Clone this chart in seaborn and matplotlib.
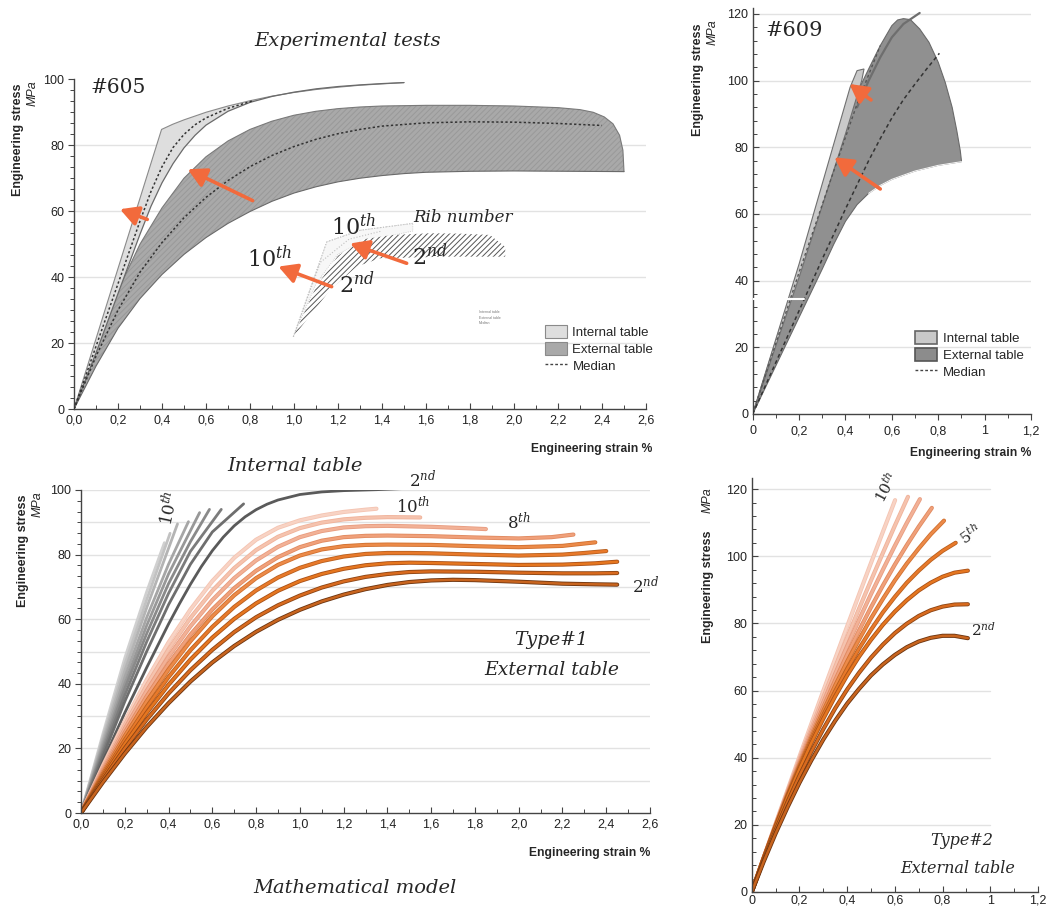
import numpy as np
import pandas as pd
import matplotlib
matplotlib.use("Agg")
import matplotlib.pyplot as plt
import seaborn as sns
from matplotlib.patches import Patch
from matplotlib.lines import Line2D
import matplotlib.patheffects as pe
from matplotlib.ticker import MultipleLocator, FuncFormatter

sns.set_style("white")
plt.rcParams['font.family'] = ['Liberation Sans', 'DejaVu Sans']
plt.rcParams['mathtext.fontset'] = 'dejavuserif'
plt.rcParams['hatch.linewidth'] = 0.7

# ---------------- DATA ----------------
# Panel A  (#605, experimental) -- strain %, stress MPa
A_INT_UP_X = [0, 0.398, 0.45, 0.5, 0.6, 0.7, 0.8, 0.9, 1.0, 1.1, 1.2, 1.3, 1.4, 1.5]
A_INT_UP_Y = [0, 84.8, 86.4, 87.7, 90.0, 91.9, 93.5, 94.9, 96.0, 96.9, 97.6, 98.2, 98.6, 99.0]
A_INT_LO_X = [0, 0.1, 0.2, 0.3, 0.35, 0.4, 0.45, 0.5, 0.55, 0.6, 0.7, 0.8, 0.9, 1.0, 1.1, 1.2, 1.3, 1.4, 1.5]
A_INT_LO_Y = [0, 17, 35, 53, 61.5, 68.6, 74.4, 79.2, 83.0, 86.1, 90.3, 93.0, 94.8, 96.1, 97.1, 97.8, 98.3, 98.7, 99.0]
A_INT_MED_X = [0, 0.1, 0.2, 0.3, 0.35, 0.4, 0.45, 0.5, 0.55, 0.6, 0.7, 0.81]
A_INT_MED_Y = [0, 19, 38, 57, 66, 73.5, 79.3, 83.3, 86.2, 88.3, 91.2, 93.4]
A_EXT_UP_X = [0, 0.1, 0.2, 0.3, 0.4, 0.5, 0.6, 0.7, 0.8, 0.9, 1.0, 1.1, 1.2, 1.3, 1.4, 1.6, 1.8,
              2.0, 2.2, 2.3, 2.36, 2.41, 2.45, 2.48, 2.495, 2.5]
A_EXT_UP_Y = [0, 19, 36, 50, 61, 70, 76.5, 81.3, 84.8, 87.3, 89.1, 90.3, 91.1, 91.6, 91.9, 92.1, 92.1,
              91.9, 91.4, 90.8, 90.0, 88.6, 86.5, 83.0, 78.5, 72.0]
A_EXT_LO_X = [0, 0.1, 0.2, 0.3, 0.4, 0.5, 0.6, 0.7, 0.8, 0.9, 1.0, 1.1, 1.2, 1.3, 1.4, 1.5, 1.6, 1.8, 2.0, 2.5]
A_EXT_LO_Y = [0, 13, 24.5, 33.5, 40.8, 46.9, 52.0, 56.3, 59.9, 63.0, 65.5, 67.4, 68.9, 70.0, 70.8, 71.4, 71.8, 72.1, 72.2, 72.0]
A_EXT_MED_X = [0, 0.1, 0.2, 0.3, 0.4, 0.5, 0.6, 0.7, 0.8, 0.9, 1.0, 1.1, 1.2, 1.3, 1.4, 1.6, 1.8, 2.0, 2.2, 2.4]
A_EXT_MED_Y = [0, 16, 30, 41.5, 50.5, 58, 64.2, 69.3, 73.5, 76.9, 79.6, 81.8, 83.5, 84.8, 85.8, 86.8, 87.1, 87.0, 86.6, 86.0]
# small inset drawing ("Rib number")
IN_INT_UP_X = [0.997, 1.149, 1.3, 1.54]
IN_INT_UP_Y = [21.9, 50.7, 54.2, 56.3]
IN_INT_LO_X = [0.997, 1.1, 1.2, 1.3, 1.54]
IN_INT_LO_Y = [21.9, 38, 47, 50.5, 54]
IN_INT_MID_X = [0.997, 1.12, 1.25, 1.4]
IN_INT_MID_Y = [21.9, 44.5, 51.5, 54.0]
IN_HAT_UP_X = [0.997, 1.1, 1.2, 1.315, 1.45, 1.618, 1.75, 1.89, 1.96, 1.96]
IN_HAT_UP_Y = [21.9, 37, 46.5, 51.5, 52.8, 53.3, 53.2, 52.8, 49.2, 46.2]
IN_HAT_LO_X = [0.997, 1.164, 1.285, 1.39, 1.694, 1.96]
IN_HAT_LO_Y = [21.9, 36.1, 43.2, 45.7, 46.2, 46.2]
A_ARROWS = [((0.333, 57.5), (0.209, 60.6)), ((0.812, 63.2), (0.517, 72.7)),
            ((1.171, 37.1), (0.929, 43.2)), ((1.512, 44.2), (1.255, 50.2))]

# Panel B (#609, experimental)
B_EXT_UP_X = [0, 0.2, 0.333, 0.42, 0.5, 0.55, 0.6, 0.625, 0.65, 0.68, 0.72, 0.76, 0.8, 0.83, 0.86, 0.88, 0.895, 0.9]
B_EXT_UP_Y = [0, 44, 76, 92, 103.5, 110.5, 116.5, 118.2, 118.6, 118.3, 115.5, 111.5, 105.5, 99.5, 92, 85, 79, 76]
B_EXT_LO_X = [0, 0.1, 0.2, 0.3, 0.35, 0.4, 0.45, 0.5, 0.55, 0.6, 0.7, 0.8, 0.9]
B_EXT_LO_Y = [0, 14.5, 29, 43.5, 51, 57.8, 62.8, 66.2, 68.6, 70.4, 72.9, 74.6, 75.7]
B_INT_L_X = [0, 0.2, 0.42, 0.45, 0.48]
B_INT_L_Y = [0, 45, 98, 103, 103.5]
B_INT_R_X = [0, 0.2, 0.4, 0.47, 0.48]
B_INT_R_Y = [0, 41, 84, 100, 103.5]
B_EDGE_X = [0.45, 0.5, 0.55, 0.6, 0.65, 0.72]
B_EDGE_Y = [92, 100, 107, 113, 117, 120.3]
B_INT_MED_X = [0, 0.2, 0.35, 0.45, 0.55]
B_INT_MED_Y = [0, 42.5, 73, 93, 110.5]
B_EXT_MED_X = [0, 0.1, 0.2, 0.3, 0.4, 0.5, 0.55, 0.6, 0.65, 0.7, 0.75, 0.805]
B_EXT_MED_Y = [0, 15.5, 31, 46.5, 61.5, 76, 82.6, 88.8, 94.3, 99.0, 103.5, 108.2]
B_ARROWS = [((0.51, 94.2), (0.417, 99.0)), ((0.55, 67.5), (0.352, 77.0))]

# Panel C (mathematical model, Type#1): internal table (grey) per rib
RIBS = ['2nd', '3rd', '4th', '5th', '6th', '7th', '8th', '9th', '10th']
C_INT = {
    '2nd': ([0, 0.1, 0.2, 0.3, 0.4, 0.45, 0.5, 0.55, 0.6, 0.65, 0.7, 0.75, 0.8, 0.85, 0.9, 1.0, 1.1, 1.2, 1.35, 1.49],
            [0, 16, 31, 45, 58.5, 64.8, 70.8, 76.3, 81.2, 85.4, 88.9, 91.7, 93.9, 95.6, 96.9, 98.6, 99.4, 99.8, 100.1, 100.5]),
    '3rd': ([0, 0.1, 0.2, 0.3, 0.4, 0.5, 0.6, 0.743], [0, 17.5, 34.5, 50, 64.5, 77, 87, 95.7]),
    '4th': ([0, 0.1, 0.2, 0.3, 0.4, 0.5, 0.641], [0, 18.5, 36.5, 53, 68, 81, 94]),
    '5th': ([0, 0.1, 0.2, 0.3, 0.4, 0.5, 0.587], [0, 19.5, 38.5, 55.5, 71, 84, 94]),
    '6th': ([0, 0.1, 0.2, 0.3, 0.4, 0.542], [0, 20.5, 40, 58, 74, 93]),
    '7th': ([0, 0.1, 0.2, 0.3, 0.4, 0.491], [0, 21.5, 42, 60.5, 77, 90.2]),
    '8th': ([0, 0.1, 0.2, 0.3, 0.441], [0, 22.5, 44, 63.5, 89.5]),
    '9th': ([0, 0.1, 0.2, 0.3, 0.407], [0, 23.5, 46, 66, 86.6]),
    '10th': ([0, 0.1, 0.2, 0.3, 0.381], [0, 24.5, 48, 68.5, 83.7]),
}
# Panel C external table (orange) per rib
C_EXT = {
    '2nd': ([0, 0.1, 0.2, 0.3, 0.4, 0.5, 0.6, 0.7, 0.8, 0.9, 1.0, 1.1, 1.2, 1.3, 1.4, 1.5, 1.6, 1.7, 1.8, 2.0, 2.2, 2.35, 2.45],
            [0, 9.5, 18.4, 26.6, 34.0, 40.7, 46.6, 51.7, 56.1, 59.8, 62.9, 65.5, 67.6, 69.3, 70.6, 71.5, 72.0, 72.2, 72.1, 71.6, 71.0, 70.8, 70.7]),
    '3rd': ([0, 0.1, 0.2, 0.3, 0.4, 0.5, 0.6, 0.7, 0.8, 0.9, 1.0, 1.1, 1.2, 1.3, 1.4, 1.5, 1.6, 1.8, 2.0, 2.2, 2.35, 2.45],
            [0, 10.3, 20.0, 28.9, 37.0, 44.2, 50.5, 56.0, 60.6, 64.3, 67.3, 69.8, 71.7, 73.1, 74.0, 74.6, 74.8, 74.7, 74.4, 74.2, 74.2, 74.3]),
    '4th': ([0, 0.1, 0.2, 0.3, 0.4, 0.5, 0.6, 0.7, 0.8, 0.9, 1.0, 1.1, 1.2, 1.3, 1.4, 1.5, 1.6, 1.8, 2.0, 2.2, 2.35, 2.45],
            [0, 11.0, 21.4, 31.0, 39.7, 47.5, 54.3, 60.1, 64.9, 68.8, 71.8, 74.0, 75.6, 76.7, 77.3, 77.5, 77.4, 77.1, 76.8, 76.9, 77.3, 77.8]),
    '5th': ([0, 0.1, 0.2, 0.3, 0.4, 0.5, 0.6, 0.7, 0.8, 0.9, 1.0, 1.1, 1.2, 1.3, 1.4, 1.5, 1.6, 1.8, 2.0, 2.2, 2.3, 2.4],
            [0, 11.6, 22.6, 32.8, 42.1, 50.4, 57.6, 63.8, 68.9, 72.9, 75.9, 78.0, 79.4, 80.2, 80.5, 80.5, 80.4, 80.0, 79.7, 80.0, 80.5, 81.1]),
    '6th': ([0, 0.1, 0.2, 0.3, 0.4, 0.5, 0.6, 0.7, 0.8, 0.9, 1.0, 1.1, 1.2, 1.3, 1.4, 1.6, 1.8, 2.0, 2.2, 2.35],
            [0, 12.2, 23.8, 34.6, 44.4, 53.2, 60.9, 67.4, 72.7, 76.8, 79.7, 81.6, 82.6, 83.0, 83.1, 83.0, 82.6, 82.3, 82.7, 83.8]),
    '7th': ([0, 0.1, 0.2, 0.3, 0.4, 0.5, 0.6, 0.7, 0.8, 0.9, 1.0, 1.1, 1.2, 1.3, 1.4, 1.6, 1.8, 2.0, 2.15, 2.25],
            [0, 12.8, 24.9, 36.1, 46.2, 55.2, 63.0, 69.6, 75.0, 79.2, 82.3, 84.3, 85.4, 85.8, 85.9, 85.7, 85.3, 85.0, 85.4, 86.2]),
    '8th': ([0, 0.1, 0.2, 0.3, 0.4, 0.5, 0.6, 0.7, 0.8, 0.9, 1.0, 1.1, 1.2, 1.3, 1.4, 1.6, 1.75, 1.85],
            [0, 13.4, 26.1, 37.8, 48.4, 57.8, 65.9, 72.7, 78.2, 82.4, 85.4, 87.3, 88.4, 88.8, 88.9, 88.6, 88.2, 87.9]),
    '9th': ([0, 0.1, 0.2, 0.3, 0.4, 0.5, 0.6, 0.7, 0.8, 0.9, 1.0, 1.1, 1.2, 1.3, 1.4, 1.55],
            [0, 14.0, 27.2, 39.5, 50.6, 60.4, 68.8, 75.8, 81.4, 85.5, 88.2, 89.9, 90.9, 91.4, 91.6, 91.5]),
    '10th': ([0, 0.1, 0.2, 0.3, 0.4, 0.5, 0.6, 0.7, 0.8, 0.9, 1.0, 1.1, 1.2, 1.3, 1.35],
             [0, 14.6, 28.4, 41.2, 52.8, 63.0, 71.8, 79.0, 84.6, 88.3, 90.6, 92.1, 93.2, 93.9, 94.2]),
}
# Panel D (mathematical model, Type#2 external table)
D_X = [0, 0.05, 0.1, 0.15, 0.2, 0.25, 0.3, 0.35, 0.4, 0.45, 0.5, 0.55, 0.6, 0.65, 0.7, 0.75, 0.8, 0.85]
D_EXT = {
    '2nd': (D_X + [0.906], [0, 9.0, 17.4, 25.2, 32.5, 39.2, 45.4, 51.0, 56.1, 60.5, 64.5, 67.8, 70.6, 72.9,
                            74.6, 75.7, 76.3, 76.3, 75.6]),
    '3rd': (D_X + [0.906], [0, 9.5, 18.4, 26.8, 34.6, 41.8, 48.5, 54.7, 60.3, 65.3, 69.8, 73.7, 77.1, 79.9,
                            82.2, 83.9, 85.0, 85.6, 85.7]),
    '4th': (D_X + [0.906], [0, 10.0, 19.4, 28.3, 36.6, 44.4, 51.6, 58.3, 64.5, 70.1, 75.1, 79.6, 83.5, 86.9,
                            89.8, 92.1, 93.9, 95.1, 95.7]),
    '5th': (D_X[:17] + [0.855], [0, 10.0, 19.5, 28.6, 37.1, 45.2, 52.7, 59.8, 66.4, 72.5, 78.1, 83.3, 87.9,
                                 92.1, 95.7, 98.9, 101.6, 104.0]),
    '6th': (D_X[:16] + [0.806], [0, 10.0, 19.7, 28.9, 37.6, 46.0, 53.9, 61.5, 68.6, 75.2, 81.5, 87.3, 92.8,
                                 97.8, 102.3, 106.5, 110.6]),
    '7th': (D_X[:15] + [0.755], [0, 10.1, 19.8, 29.2, 38.2, 46.8, 55.1, 63.1, 70.7, 77.9, 84.8, 91.3, 97.5,
                                 103.3, 108.8, 114.4]),
    '8th': (D_X[:14] + [0.705], [0, 10.1, 19.9, 29.5, 38.8, 47.8, 56.5, 65.0, 73.2, 81.1, 88.7, 96.0, 103.1,
                                 109.9, 117.0]),
    '9th': (D_X[:13] + [0.655], [0, 10.2, 20.1, 29.9, 39.5, 48.8, 58.0, 67.0, 75.8, 84.4, 92.8, 101.0, 109.1,
                                 117.7]),
    '10th': (D_X[:12] + [0.601], [0, 10.2, 20.3, 30.3, 40.3, 50.1, 59.9, 69.5, 79.1, 88.6, 98.0, 107.3, 116.7]),
}

GREY_COL = ['#5a5a5a', '#6e6e6e', '#7c7c7c', '#8a8a8a', '#989898', '#a6a6a6', '#b4b4b4', '#c2c2c2', '#d0d0d0']
OR_CORE = ['#c8641e', '#d86a1e', '#e5761f', '#e8792a', '#ec8a48', '#f0a07a', '#f2b196', '#f5c3ae', '#f8d3c4']
OR_EDGE = ['#6b3410', '#8a4414', '#a85018', '#b8601f', '#d07030', '#e08a60', '#e89c80', '#f0b29a', '#f4c4b2']
ARROW_COL = '#f26a3c'

# ---------------- FIGURE ----------------
W, H = 1049, 917
fig = plt.figure(figsize=(W / 100, H / 100), dpi=100)


def rect(x0, x1, y_top, y_bot):
    return [x0 / W, 1 - y_bot / H, (x1 - x0) / W, (y_bot - y_top) / H]


def fmt1(v, p):
    return f"{v:.1f}".replace('.', ',')


def fmtg(v, p):
    return f"{round(v, 2):g}".replace('.', ',')


def style(ax, xlim, ylim, xmaj, xmin, ymaj, ymin, xfmt, xdir, ydir, xpad=4):
    ax.set_xlim(*xlim)
    ax.set_ylim(*ylim)
    ax.xaxis.set_major_locator(MultipleLocator(xmaj))
    ax.xaxis.set_minor_locator(MultipleLocator(xmin))
    ax.yaxis.set_major_locator(MultipleLocator(ymaj))
    ax.yaxis.set_minor_locator(MultipleLocator(ymin))
    ax.xaxis.set_major_formatter(FuncFormatter(xfmt))
    ax.yaxis.set_major_formatter(FuncFormatter(lambda v, p: f"{v:.0f}"))
    for s in ['top', 'right']:
        ax.spines[s].set_visible(False)
    for s in ['left', 'bottom']:
        ax.spines[s].set_color('#444444')
        ax.spines[s].set_linewidth(1.0)
    ax.tick_params(axis='x', which='both', bottom=True, direction=xdir, colors='#444444',
                   labelcolor='#222222', labelsize=9, pad=xpad)
    ax.tick_params(axis='y', which='both', left=True, direction=ydir, colors='#444444',
                   labelcolor='#222222', labelsize=9, pad=3)
    ax.tick_params(which='major', length=4, width=0.8)
    ax.tick_params(which='minor', length=3, width=0.7)
    ax.set_facecolor('none')
    ax.grid(False)


def long_df(d, order):
    return pd.concat([pd.DataFrame({'x': d[k][0], 'y': d[k][1], 'rib': k}) for k in order],
                     ignore_index=True)


def line(ax, xs, ys, **kw):
    sns.lineplot(x=xs, y=ys, sort=False, estimator=None, ax=ax, legend=False, **kw)


def arrow(ax, tail, head):
    ax.annotate('', xy=head, xytext=tail,
                arrowprops=dict(arrowstyle='-|>,head_length=0.55,head_width=0.3',
                                color=ARROW_COL, lw=2.6, shrinkA=0, shrinkB=0,
                                mutation_scale=20), zorder=6)


serif = dict(family='DejaVu Serif', style='italic')

# ---------- Panel A ----------
axA = fig.add_axes(rect(74, 646, 79.3, 409))
style(axA, (0, 2.6), (0, 100), 0.2, 0.1, 20, 20 / 6, fmt1, 'in', 'out')
for g in [20, 40, 60, 80]:
    axA.axhline(g, color='#e2e2e2', lw=1, zorder=0)
ext_x = np.r_[A_EXT_UP_X, A_EXT_LO_X[::-1]]
ext_y = np.r_[A_EXT_UP_Y, A_EXT_LO_Y[::-1]]
axA.fill(ext_x, ext_y, facecolor='#a9a9a9', edgecolor='none', zorder=1)
axA.fill(ext_x, ext_y, facecolor='none', edgecolor='#999999', hatch='//////', lw=0, zorder=1.1)
line(axA, A_EXT_UP_X, A_EXT_UP_Y, color='#7a7a7a', lw=0.8, zorder=1.2)
line(axA, A_EXT_LO_X, A_EXT_LO_Y, color='#6a6a6a', lw=0.8, zorder=1.2)
int_x = np.r_[A_INT_UP_X, A_INT_LO_X[::-1]]
int_y = np.r_[A_INT_UP_Y, A_INT_LO_Y[::-1]]
axA.fill(int_x, int_y, facecolor='#dedede', edgecolor='none', zorder=2)
line(axA, A_INT_UP_X, A_INT_UP_Y, color='#8a8a8a', lw=0.8, zorder=2.1)
line(axA, A_INT_LO_X, A_INT_LO_Y, color='#6a6a6a', lw=0.9, zorder=2.1)
line(axA, A_INT_MED_X, A_INT_MED_Y, color='#333333', lw=1.1, ls=(0, (1.5, 1.5)), zorder=3)
line(axA, A_EXT_MED_X, A_EXT_MED_Y, color='#333333', lw=1.1, ls=(0, (1.5, 1.5)), zorder=3)
# inset
inx = np.r_[IN_INT_UP_X, IN_INT_LO_X[::-1]]
iny = np.r_[IN_INT_UP_Y, IN_INT_LO_Y[::-1]]
axA.fill(inx, iny, facecolor='#f7f7f7', edgecolor='#c4c4c4', lw=0.6, ls=':', zorder=2)
hx = np.r_[IN_HAT_UP_X, IN_HAT_LO_X[::-1]]
hy = np.r_[IN_HAT_UP_Y, IN_HAT_LO_Y[::-1]]
axA.fill(hx, hy, facecolor='white', edgecolor='#555555', hatch='//////', lw=0, zorder=2.2)
line(axA, IN_INT_UP_X, IN_INT_UP_Y, color='#c0c0c0', lw=0.8, ls=':', zorder=2.3)
line(axA, IN_INT_MID_X, IN_INT_MID_Y, color='#c0c0c0', lw=0.8, ls=':', zorder=2.3)
for tail, head in A_ARROWS:
    arrow(axA, tail, head)
axA.text(0.2, 97.6, '#605', fontsize=14.5, family='DejaVu Serif', ha='center', va='center')
axA.text(0.89, 45.7, r'$10^{th}$', fontsize=16, ha='center', va='center', zorder=7)
axA.text(1.285, 37.6, r'$2^{nd}$', fontsize=16, ha='center', va='center', zorder=7)
axA.text(1.27, 55.2, r'$10^{th}$', fontsize=16, ha='center', va='center', zorder=7)
axA.text(1.618, 46.2, r'$2^{nd}$', fontsize=16, ha='center', va='center', zorder=7)
axA.text(1.77, 58.1, 'Rib number', fontsize=12, ha='center', va='center', **serif)
for i, t in enumerate(['Internal table', 'External table', 'Median']):
    axA.text(1.84, 29.3 - i * 1.6, t, fontsize=2.5, color='#777777', va='center')
hA = [Patch(facecolor='#dedede', edgecolor='#8a8a8a', lw=0.8, label='Internal table'),
      Patch(facecolor='#a9a9a9', edgecolor='#8a8a8a', lw=0.8, label='External table'),
      Line2D([], [], color='#444444', ls=(0, (2, 1.5)), lw=1, label='Median')]
axA.legend(handles=hA, loc='upper left', bbox_to_anchor=(0.823, 0.255), frameon=False,
           fontsize=9.5, handlelength=1.7, handleheight=1.2, handletextpad=0.4,
           labelspacing=0.2, borderaxespad=0, borderpad=0)

# ---------- Panel B ----------
axB = fig.add_axes(rect(752.7, 1031, 8.3, 414))
style(axB, (0, 1.2), (0, 121.7), 0.2, 0.1, 20, 4, fmtg, 'out', 'in')
for g in [20, 40, 60, 80, 100, 120]:
    axB.axhline(g, color='#e2e2e2', lw=1, zorder=0)
bx = np.r_[B_EXT_UP_X, B_EXT_LO_X[::-1]]
by = np.r_[B_EXT_UP_Y, B_EXT_LO_Y[::-1]]
axB.fill(bx, by, facecolor='#909090', edgecolor='#6a6a6a', lw=0.8, zorder=1)
line(axB, B_EXT_LO_X[7:], B_EXT_LO_Y[7:], color='#f4f4f4', lw=0.8, zorder=1.1)
bix = np.r_[B_INT_L_X, B_INT_R_X[::-1]]
biy = np.r_[B_INT_L_Y, B_INT_R_Y[::-1]]
axB.fill(bix, biy, facecolor='#c9c9c9', edgecolor='#707070', lw=0.8, zorder=2)
line(axB, B_EDGE_X, B_EDGE_Y, color='#6e6e6e', lw=1.6, zorder=2.2)
line(axB, B_INT_MED_X, B_INT_MED_Y, color='#555555', lw=1.0, ls=(0, (2, 2)), zorder=3)
line(axB, B_EXT_MED_X, B_EXT_MED_Y, color='#333333', lw=1.1, ls=(0, (2.5, 2)), zorder=3)
axB.plot([0, 0.22], [34.5, 34.5], color='white', lw=1.5, zorder=4)
for tail, head in B_ARROWS:
    arrow(axB, tail, head)
axB.text(0.18, 115, '#609', fontsize=15, family='DejaVu Serif', ha='center', va='center')
hB = [Patch(facecolor='#c9c9c9', edgecolor='#666666', lw=1.2, label='Internal table'),
      Patch(facecolor='#8c8c8c', edgecolor='#555555', lw=1.2, label='External table'),
      Line2D([], [], color='#444444', ls=(0, (2, 1.5)), lw=1, label='Median')]
axB.legend(handles=hB, loc='upper left', bbox_to_anchor=(0.583, 0.205), frameon=False,
           fontsize=9.5, handlelength=1.7, handleheight=1.2, handletextpad=0.4,
           labelspacing=0.2, borderaxespad=0, borderpad=0)

# ---------- Panel C ----------
axC = fig.add_axes(rect(81, 650, 490, 813))
style(axC, (0, 2.6), (0, 100), 0.2, 0.1, 20, 20 / 6, fmt1, 'in', 'out')
for g in range(10, 101, 10):
    axC.axhline(g, color='#e2e2e2', lw=1, zorder=0)
order = RIBS[::-1]
sns.lineplot(data=long_df(C_INT, order), x='x', y='y', hue='rib', hue_order=order,
             palette=dict(zip(RIBS, GREY_COL)), sort=False, estimator=None, legend=False,
             lw=2.0, ax=axC)
n0 = len(axC.lines)
sns.lineplot(data=long_df(C_EXT, order), x='x', y='y', hue='rib', hue_order=order,
             palette=dict(zip(RIBS, OR_CORE)), sort=False, estimator=None, legend=False,
             lw=1.8, ax=axC)
edge_map = dict(zip(RIBS, OR_EDGE))
for ln, rib in zip(axC.lines[n0:], order):
    ln.set_path_effects([pe.Stroke(linewidth=3.0, foreground=edge_map[rib]), pe.Normal()])
lab = dict(fontsize=12, ha='center', va='center')
axC.text(0.40, 94.5, r'$10^{th}$', rotation=78, **lab)
axC.text(1.56, 103.3, r'$2^{nd}$', **lab)
axC.text(1.52, 95.3, r'$10^{th}$', **lab)
axC.text(2.0, 90.2, r'$8^{th}$', **lab)
axC.text(2.58, 70.5, r'$2^{nd}$', **lab)
axC.text(2.15, 53.6, 'Type#1', fontsize=13.5, ha='center', va='center', **serif)
axC.text(2.15, 44.2, 'External table', fontsize=13.5, ha='center', va='center', **serif)

# ---------- Panel D ----------
axD = fig.add_axes(rect(751.7, 1038, 478, 892))
style(axD, (0, 1.2), (0, 123.3), 0.2, 0.1, 20, 4, fmtg, 'in', 'in', xpad=2)
for g in [20, 40, 60, 80, 100, 120]:
    axD.axhline(g, xmax=1.0 / 1.2, color='#e2e2e2', lw=1, zorder=0)
m0 = len(axD.lines)
sns.lineplot(data=long_df(D_EXT, order), x='x', y='y', hue='rib', hue_order=order,
             palette=dict(zip(RIBS, OR_CORE)), sort=False, estimator=None, legend=False,
             lw=1.8, ax=axD)
for ln, rib in zip(axD.lines[m0:], order):
    ln.set_path_effects([pe.Stroke(linewidth=3.0, foreground=edge_map[rib]), pe.Normal()])
labd = dict(fontsize=11, ha='center', va='center')
axD.text(0.565, 120.5, r'$10^{th}$', rotation=62, **labd)
axD.text(0.915, 106.5, r'$5^{th}$', rotation=35, **labd)
axD.text(0.97, 78.2, r'$2^{nd}$', **labd)
axD.text(0.88, 15.4, 'Type#2', fontsize=11.5, ha='center', va='center', **serif)
axD.text(0.865, 7.0, 'External table', fontsize=11.5, ha='center', va='center', **serif)

for ax in (axA, axB, axC, axD):
    ax.set_xlabel('')
    ax.set_ylabel('')

# ---------- figure texts ----------
def ftext(x, y, s, **kw):
    fig.text(x / W, 1 - y / H, s, **kw)


ylab = dict(rotation=90, ha='center', va='center', fontweight='bold', fontsize=9)
mpa = dict(rotation=90, ha='center', va='center', style='italic', fontsize=9)
ftext(18, 140, 'Engineering stress', **ylab)
ftext(33, 93, 'MPa', **mpa)
ftext(698, 80, 'Engineering stress', **ylab)
ftext(713, 32, 'MPa', **mpa)
ftext(23, 551, 'Engineering stress', **ylab)
ftext(38, 504, 'MPa', **mpa)
ftext(708, 587, 'Engineering stress', **ylab)
ftext(708, 500, 'MPa', **mpa)
xlab = dict(ha='right', va='center', fontweight='bold', fontsize=8.7)
ftext(652, 449, 'Engineering strain %', **xlab)
ftext(1031, 453, 'Engineering strain %', **xlab)
ftext(650, 853, 'Engineering strain %', **xlab)
ftext(348, 41, 'Experimental tests', fontsize=14, ha='center', va='center', **serif)
ftext(295, 466, 'Internal table', fontsize=14, ha='center', va='center', **serif)
ftext(355, 888, 'Mathematical model', fontsize=14, ha='center', va='center', **serif)

fig.savefig('out.png', dpi=100, facecolor='white')
